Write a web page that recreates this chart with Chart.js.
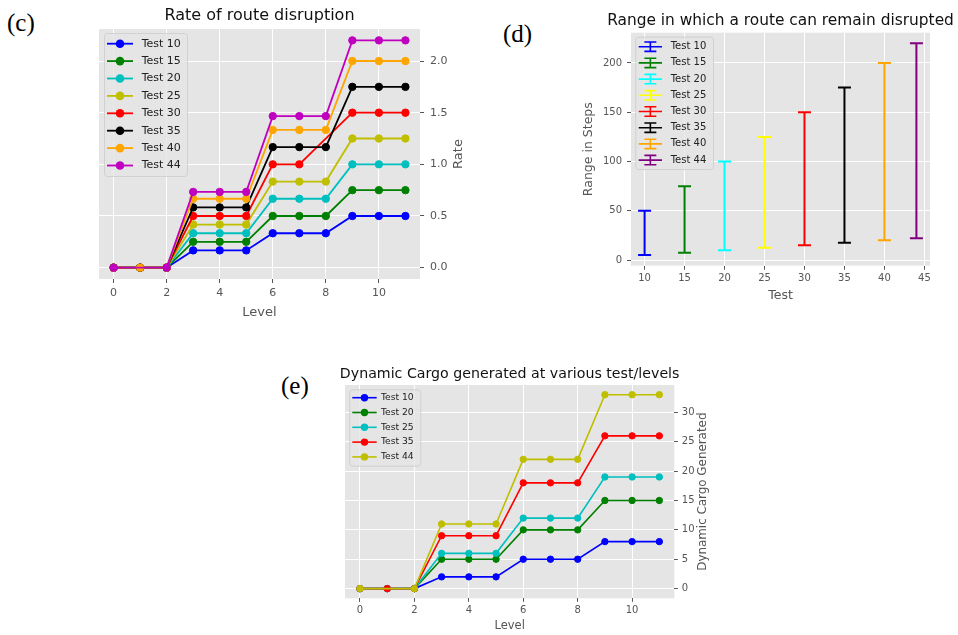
<!DOCTYPE html>
<html>
<head>
<meta charset="utf-8">
<script src="https://cdn.jsdelivr.net/npm/chart.js@4.4.0/dist/chart.umd.min.js"></script>
<style>
  html, body { margin: 0; padding: 0; background: #fff; overflow: hidden; }
  body { width: 958px; height: 635px; position: relative; }
  canvas { position: absolute; }
  .tag { position: absolute; font-family: "Liberation Serif", "Times New Roman", serif; font-size: 25px; line-height: 1; color: #000; }
</style>
</head>
<body>
<div class="tag" style="left:7px;top:10px">(c)</div>
<div class="tag" style="left:503px;top:21px">(d)</div>
<div class="tag" style="left:281px;top:373px">(e)</div>
<canvas id="rate" width="420" height="335" style="left:60px;top:0px"></canvas>
<canvas id="range" width="418" height="310" style="left:540px;top:0px"></canvas>
<canvas id="cargo" width="420" height="280" style="left:300px;top:355px"></canvas>
<script>
// --- data ---
const levels = [0, 1, 2, 3, 4, 5, 6, 7, 8, 9, 10, 11];
const levelTicks = [0, 2, 4, 6, 8, 10];

// (c) rate of route disruption
const rateLabels = ["Test 10", "Test 15", "Test 20", "Test 25", "Test 30", "Test 35", "Test 40", "Test 44"];
const rateColors = ["#0000FF", "#008000", "#00BFBF", "#BFBF00", "#FF0000", "#000000", "#FFA500", "#BF00BF"];
const rate10 = [0, 0, 0, 0.167, 0.167, 0.167, 0.333, 0.333, 0.333, 0.5, 0.5, 0.5];
const rate15 = [0, 0, 0, 0.25, 0.25, 0.25, 0.5, 0.5, 0.5, 0.75, 0.75, 0.75];
const rate20 = [0, 0, 0, 0.333, 0.333, 0.333, 0.667, 0.667, 0.667, 1.0, 1.0, 1.0];
const rate25 = [0, 0, 0, 0.417, 0.417, 0.417, 0.833, 0.833, 0.833, 1.25, 1.25, 1.25];
const rate30 = [0, 0, 0, 0.5, 0.5, 0.5, 1.0, 1.0, null, 1.5, 1.5, 1.5];
const rate35 = [0, 0, 0, 0.583, 0.583, 0.583, 1.167, 1.167, 1.167, 1.75, 1.75, 1.75];
const rate40 = [0, 0, 0, 0.667, 0.667, 0.667, 1.333, 1.333, 1.333, 2.0, 2.0, 2.0];
const rate44 = [0, null, 0, 0.733, 0.733, 0.733, 1.467, 1.467, 1.467, 2.2, 2.2, 2.2];
const rateTicks = [0, 0.5, 1.0, 1.5, 2.0];

// (d) range in steps
const rangeLabels = ["Test 10", "Test 15", "Test 20", "Test 25", "Test 30", "Test 35", "Test 40", "Test 44"];
const rangeColors = ["#0000FF", "#008000", "#00FFFF", "#FFFF00", "#FF0000", "#000000", "#FFA500", "#800080"];
const rangeTest = [10, 15, 20, 25, 30, 35, 40, 44];
const rangeLow = [5, 7.5, 10, 12.5, 15, 17.5, 20, 22];
const rangeHigh = [50, 75, 100, 125, 150, 175, 200, 220];
const testTicks = [10, 15, 20, 25, 30, 35, 40, 45];
const stepTicks = [0, 50, 100, 150, 200];

// (e) dynamic cargo
const cargoLabels = ["Test 10", "Test 20", "Test 25", "Test 35", "Test 44"];
const cargoColors = ["#0000FF", "#008000", "#00BFBF", "#FF0000", "#BFBF00"];
const cargo10 = [0, 0, 0, 2, 2, 2, 5, 5, 5, 8, 8, 8];
const cargo20 = [0, 0, 0, 5, 5, 5, 10, 10, 10, 15, 15, 15];
const cargo25 = [0, 0, 0, 6, 6, 6, 12, 12, 12, 19, 19, 19];
const cargo35 = [0, 0, 0, 9, 9, 9, 18, 18, 18, 26, 26, 26];
const cargo44 = [0, null, 0, 11, 11, 11, 22, 22, 22, 33, 33, 33];
const cargoTicks = [0, 5, 10, 15, 20, 25, 30];

// --- helpers ---
const FONT = '"DejaVu Sans", sans-serif';
const font = (size) => ({ family: FONT, size: size });

// matplotlib-like 5% margins
function margins(lo, hi) {
  const m = (hi - lo) * 0.05;
  return { min: lo - m, max: hi + m };
}

function fixedTicks(values) {
  return (scale) => { scale.ticks = values.map((v) => ({ value: v })); };
}

function axis(opts) {
  const s = {
    type: "linear",
    position: opts.position,
    min: opts.min,
    max: opts.max,
    afterBuildTicks: fixedTicks(opts.ticks),
    grid: { color: "#FFFFFF", lineWidth: 1, tickColor: "#555555", tickLength: opts.tickLength, tickWidth: 1 },
    border: { display: false },
    ticks: {
      color: "#555555",
      font: font(opts.fontSize),
      padding: opts.pad,
      maxRotation: 0,
      autoSkip: false,
      callback: opts.format || ((v) => String(v)),
    },
    title: opts.title
      ? { display: true, text: opts.title, color: "#555555", font: font(opts.titleSize), padding: opts.titlePad || 0 }
      : { display: false },
  };
  if (opts.size) {
    if (opts.position === "bottom") s.afterFit = (sc) => { sc.height = opts.size; };
    else s.afterFit = (sc) => { sc.width = opts.size; };
  }
  return s;
}

// background, titles, right-hand y label and matplotlib style legend
const mplPlugin = {
  id: "mpl",
  beforeDraw(chart) {
    const { ctx, chartArea: a } = chart;
    ctx.save();
    ctx.fillStyle = "#E5E5E5";
    ctx.fillRect(a.left, a.top, a.right - a.left, a.bottom - a.top);
    ctx.restore();
  },
  afterDatasetsDraw(chart, args, o) {
    const { ctx, chartArea: a } = chart;
    const L = o.legend;
    ctx.save();
    ctx.beginPath();
    ctx.roundRect(a.left + L.dx + 0.5, a.top + L.dy + 0.5, L.w, L.h, 3);
    ctx.fillStyle = "rgba(229,229,229,0.8)";
    ctx.fill();
    ctx.strokeStyle = "rgba(204,204,204,0.8)";
    ctx.lineWidth = 1;
    ctx.stroke();
    chart.data.datasets.forEach((ds, i) => {
      const y = a.top + L.first + i * L.step;
      const x0 = a.left + L.x0, x1 = a.left + L.x1, xc = (x0 + x1) / 2;
      ctx.strokeStyle = ds.borderColor;
      ctx.fillStyle = ds.borderColor;
      ctx.lineWidth = L.lw;
      ctx.beginPath();
      ctx.moveTo(x0, y); ctx.lineTo(x1, y);
      if (L.glyph === "errorbar") {
        ctx.moveTo(xc, y - L.h2); ctx.lineTo(xc, y + L.h2);
        ctx.moveTo(xc - L.cap, y - L.h2); ctx.lineTo(xc + L.cap, y - L.h2);
        ctx.moveTo(xc - L.cap, y + L.h2); ctx.lineTo(xc + L.cap, y + L.h2);
      }
      ctx.stroke();
      if (L.glyph === "marker") {
        ctx.beginPath();
        ctx.arc(xc, y, L.r, 0, Math.PI * 2);
        ctx.fill();
      }
      ctx.fillStyle = "#222222";
      ctx.font = L.fontSize + "px " + FONT;
      ctx.textAlign = "left";
      ctx.textBaseline = "middle";
      ctx.fillText(ds.label, a.left + L.tx, y);
    });
    ctx.restore();
  },
  afterDraw(chart, args, o) {
    const { ctx, chartArea: a } = chart;
    ctx.save();
    ctx.fillStyle = "#111111";
    ctx.font = o.titleSize + "px " + FONT;
    ctx.textAlign = "center";
    ctx.textBaseline = "middle";
    ctx.fillText(o.title, (a.left + a.right) / 2, o.titleY);
    if (o.ylabel) {
      ctx.translate(a.right + o.ylabelDx, (a.top + a.bottom) / 2);
      ctx.rotate(-Math.PI / 2);
      ctx.fillStyle = "#555555";
      ctx.font = o.ylabelSize + "px " + FONT;
      ctx.fillText(o.ylabel, 0, 0);
    }
    ctx.restore();
  },
};

function lineSets(labels, series, colors, radius, width) {
  return series.map((ys, i) => ({
    label: labels[i],
    data: levels.map((x, j) => ({ x: x, y: ys[j] })),
    borderColor: colors[i],
    backgroundColor: colors[i],
    pointBackgroundColor: colors[i],
    pointBorderColor: colors[i],
    pointBorderWidth: 1,
    pointRadius: radius,
    pointHoverRadius: radius,
    borderWidth: width,
    spanGaps: true,
    tension: 0,
    order: -i,
  }));
}

const common = {
  responsive: false,
  animation: false,
  events: [],
};

// --- (c) ---
new Chart(document.getElementById("rate"), {
  type: "line",
  data: {
    datasets: lineSets(rateLabels, [rate10, rate15, rate20, rate25, rate30, rate35, rate40, rate44], rateColors, 3.7, 1.8),
  },
  options: {
    ...common,
    layout: { padding: { left: 39, right: 10, top: 29, bottom: 15 } },
    scales: {
      x: axis({ position: "bottom", ...margins(0, 11), ticks: levelTicks, tickLength: 4, fontSize: 11, pad: 3.5,
        title: "Level", titleSize: 13, size: 41 }),
      y: axis({ position: "right", ...margins(0, 2.2), ticks: rateTicks, tickLength: 4, fontSize: 11, pad: 6,
        format: (v) => v.toFixed(1), size: 50 }),
    },
    plugins: {
      legend: { display: false },
      tooltip: { enabled: false },
      mpl: {
        title: "Rate of route disruption", titleSize: 16, titleY: 16,
        ylabel: "Rate", ylabelSize: 13, ylabelDx: 39,
        legend: { dx: 5, dy: 4, w: 83, h: 143, first: 14.7, step: 17.4, x0: 8, x1: 34, tx: 42.7,
          glyph: "marker", r: 4.3, lw: 1.8, fontSize: 11 },
      },
    },
  },
  plugins: [mplPlugin],
});

// --- (d) ---
new Chart(document.getElementById("range"), {
  type: "line",
  data: {
    datasets: rangeTest.map((t, i) => ({
      label: rangeLabels[i],
      data: [{ x: t, y: rangeLow[i] }, { x: t, y: rangeHigh[i] }],
      borderColor: rangeColors[i],
      backgroundColor: rangeColors[i],
      pointBorderColor: rangeColors[i],
      pointStyle: "line",
      pointRadius: 6.5,
      pointHoverRadius: 6.5,
      pointBorderWidth: 2,
      borderWidth: 2,
      order: -i,
    })),
  },
  options: {
    ...common,
    layout: { padding: { left: 41, right: 28, top: 32.7, bottom: 7.1 } },
    scales: {
      x: axis({ position: "bottom", ...margins(10, 44), ticks: testTicks, tickLength: 4, fontSize: 10, pad: 3,
        title: "Test", titleSize: 12.5, size: 37.2 }),
      y: axis({ position: "left", ...margins(5, 220), ticks: stepTicks, tickLength: 4, fontSize: 10, pad: 5,
        title: "Range in Steps", titleSize: 12.5, titlePad: { top: 0.5, bottom: 0 }, size: 50 }),
    },
    plugins: {
      legend: { display: false },
      tooltip: { enabled: false },
      mpl: {
        title: "Range in which a route can remain disrupted", titleSize: 15.4, titleY: 21,
        legend: { dx: 4.3, dy: 4, w: 77.7, h: 132.3, first: 14, step: 16.2, x0: 7.7, x1: 31, tx: 39.7,
          glyph: "errorbar", h2: 4.7, cap: 6, lw: 1.6, fontSize: 10 },
      },
    },
  },
  plugins: [mplPlugin],
});

// --- (e) ---
new Chart(document.getElementById("cargo"), {
  type: "line",
  data: {
    datasets: lineSets(cargoLabels, [cargo10, cargo20, cargo25, cargo35, cargo44], cargoColors, 3.2, 1.6),
  },
  options: {
    ...common,
    layout: { padding: { left: 45, right: 0.7, top: 30, bottom: 2.1 } },
    scales: {
      x: axis({ position: "bottom", ...margins(0, 11), ticks: levelTicks, tickLength: 3.5, fontSize: 10, pad: 2.3,
        title: "Level", titleSize: 11.5, size: 34.6 }),
      y: axis({ position: "right", ...margins(0, 33), ticks: cargoTicks, tickLength: 3.5, fontSize: 10, pad: 4,
        size: 45 }),
    },
    plugins: {
      legend: { display: false },
      tooltip: { enabled: false },
      mpl: {
        title: "Dynamic Cargo generated at various test/levels", titleSize: 14.2, titleY: 19.3,
        ylabel: "Dynamic Cargo Generated", ylabelSize: 11.9, ylabelDx: 28.7,
        legend: { dx: 4.3, dy: 4.3, w: 71, h: 76.4, first: 12.7, step: 14.8, x0: 7.3, x1: 31.7, tx: 36,
          glyph: "marker", r: 3.7, lw: 1.6, fontSize: 9.2 },
      },
    },
  },
  plugins: [mplPlugin],
});
</script>
</body>
</html>
